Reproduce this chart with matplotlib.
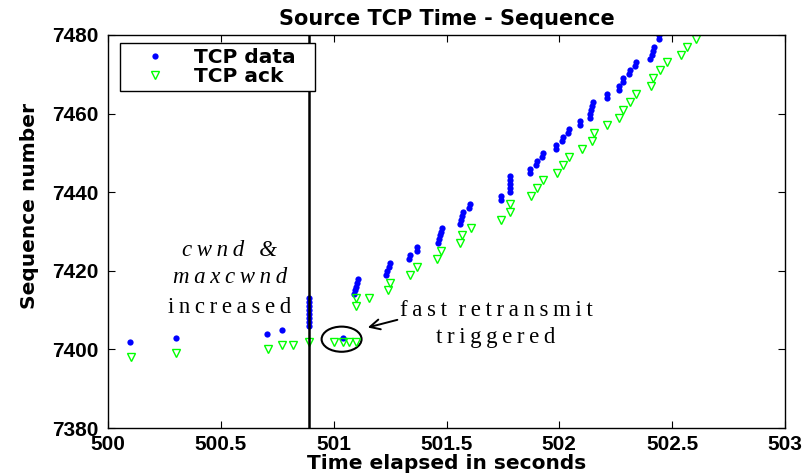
import matplotlib.pyplot as plt
from matplotlib.patches import Ellipse

# Dados (tempo em segundos, número de sequência)
data_t = [500.097, 500.30, 500.705, 500.77,
          500.89, 500.89, 500.89, 500.89, 500.89, 500.89, 500.89, 500.89,
          501.04,
          501.09, 501.095, 501.10, 501.103, 501.106,
          501.23, 501.235, 501.245, 501.25,
          501.335, 501.337, 501.368, 501.37,
          501.462, 501.466, 501.47, 501.475, 501.48,
          501.56, 501.565, 501.57, 501.575, 501.60, 501.602,
          501.74, 501.742,
          501.78, 501.78, 501.78, 501.78, 501.78,
          501.87, 501.872, 501.897, 501.9, 501.925, 501.927,
          501.985, 501.987, 502.012, 502.015, 502.04, 502.042,
          502.09, 502.092, 502.135, 502.138, 502.141, 502.144, 502.147,
          502.21, 502.212, 502.263, 502.266, 502.28, 502.283, 502.31, 502.313,
          502.335, 502.338, 502.40, 502.412, 502.415, 502.418, 502.44, 502.442]
data_seq = [7402, 7403, 7404, 7405,
            7406, 7407, 7408, 7409, 7410, 7411, 7412, 7413,
            7403,
            7414, 7415, 7416, 7417, 7418,
            7419, 7420, 7421, 7422,
            7423, 7424, 7425, 7426,
            7427, 7428, 7429, 7430, 7431,
            7432, 7433, 7434, 7435, 7436, 7437,
            7438, 7439,
            7440, 7441, 7442, 7443, 7444,
            7445, 7446, 7447, 7448, 7449, 7450,
            7451, 7452, 7453, 7454, 7455, 7456,
            7457, 7458, 7459, 7460, 7461, 7462, 7463,
            7464, 7465, 7466, 7467, 7468, 7469, 7470, 7471,
            7472, 7473, 7474, 7475, 7476, 7477, 7479, 7480]

ack_t = [500.10, 500.30, 500.71, 500.77, 500.82, 500.89,
         501.00, 501.04, 501.07, 501.10,
         501.10, 501.10, 501.155,
         501.24, 501.25, 501.34, 501.37,
         501.46, 501.475, 501.56, 501.57, 501.61,
         501.74, 501.78, 501.78, 501.873, 501.902, 501.929,
         501.988, 502.017, 502.044, 502.099, 502.143, 502.155, 502.21,
         502.265, 502.283, 502.313, 502.339, 502.406, 502.416, 502.446,
         502.475, 502.537, 502.564, 502.605]
ack_seq = [7398, 7399, 7400, 7401, 7401, 7402,
           7402, 7402, 7402, 7402,
           7411, 7413, 7413,
           7415, 7417, 7419, 7421,
           7423, 7425, 7427, 7429, 7431,
           7433, 7435, 7437, 7439, 7441, 7443,
           7445, 7447, 7449, 7451, 7453, 7455, 7457,
           7459, 7461, 7463, 7465, 7467, 7469, 7471,
           7473, 7475, 7477, 7479]

xticks = [500, 500.5, 501, 501.5, 502, 502.5, 503]
xtick_labels = ['500', '500.5', '501', '501.5', '502', '502.5', '503']
yticks = [7380, 7400, 7420, 7440, 7460, 7480]

plt.rcParams['font.family'] = ['Liberation Sans', 'DejaVu Sans']
plt.rcParams['font.weight'] = 'bold'
serif = ['Liberation Serif', 'DejaVu Serif']
wide = ['DejaVu Sans']


def spaced(s):
    # espaçamento entre letras como no original
    return '\u2009'.join(s)


fig = plt.figure(figsize=(8.02, 4.76), dpi=100)
ax = fig.add_axes([0.1347, 0.1008, 0.8441, 0.8257])

ax.plot(data_t, data_seq, linestyle='none', marker='o', markersize=4.5,
        color='#0000ff', markeredgewidth=0, label='TCP data  ')
ax.plot(ack_t, ack_seq, linestyle='none', marker='v', markersize=5.8,
        markerfacecolor='none', markeredgecolor='#00ff00', markeredgewidth=1.0,
        label='TCP ack')

# linha vertical: cwnd aumentado
ax.axvline(500.89, color='black', linewidth=1.8)

# elipse e seta do fast retransmit
ax.add_patch(Ellipse((501.035, 7402.6), 0.177, 6.4, fill=False,
                     edgecolor='black', linewidth=1.5))
ax.annotate('', xy=(501.139, 7405.4), xytext=(501.294, 7407.7),
            arrowprops=dict(arrowstyle='->', color='black', linewidth=1.4,
                            mutation_scale=18))

fs_note = 16.5
ax.text(500.54, 7423.8, spaced('cwnd') + '\u2009 \u2009&', family=serif, style='italic',
        weight='normal', fontsize=fs_note, ha='center', va='baseline')
ax.text(500.54, 7416.9, spaced('maxcwnd'), family=serif, style='italic',
        weight='normal', fontsize=fs_note, ha='center', va='baseline')
ax.text(500.54, 7409.3, spaced('increased'), family=serif,
        weight='normal', fontsize=fs_note, ha='center', va='baseline')
ax.text(501.72, 7408.5, spaced('fast') + '  ' + spaced('retransmit'), family=serif,
        weight='normal', fontsize=fs_note, ha='center', va='baseline')
ax.text(501.72, 7401.6, spaced('triggered'), family=serif,
        weight='normal', fontsize=fs_note, ha='center', va='baseline')

ax.set_xlim(500, 503)
ax.set_ylim(7380, 7480)
ax.set_xticks(xticks)
ax.set_xticklabels(xtick_labels)
ax.set_yticks(yticks)
ax.tick_params(direction='in', top=True, right=True, labelsize=15,
               length=5, width=0.8)
ax.tick_params(axis='x', pad=5)
ax.tick_params(axis='y', pad=7)
for s in ax.spines.values():
    s.set_linewidth(1.0)

ax.set_title('Source TCP Time - Sequence', family=wide, fontsize=15,
             fontweight='bold', pad=7)
ax.set_xlabel('Time elapsed in seconds', family=wide, fontsize=14.5,
              fontweight='bold', labelpad=0)
ax.set_ylabel('Sequence number', family=wide, fontsize=14.5, fontweight='bold')
ax.yaxis.set_label_coords(-0.102, 0.565)

leg = ax.legend(loc='upper left', bbox_to_anchor=(0.0177, 0.9796),
                borderaxespad=0, prop={'family': wide, 'size': 14.5, 'weight': 'bold'},
                frameon=True, fancybox=False,
                edgecolor='black', framealpha=1,
                handlelength=3.0, handletextpad=0.44, borderpad=0.25,
                labelspacing=0.0)
leg.get_frame().set_linewidth(1.0)

plt.savefig('out.png', dpi=100)
